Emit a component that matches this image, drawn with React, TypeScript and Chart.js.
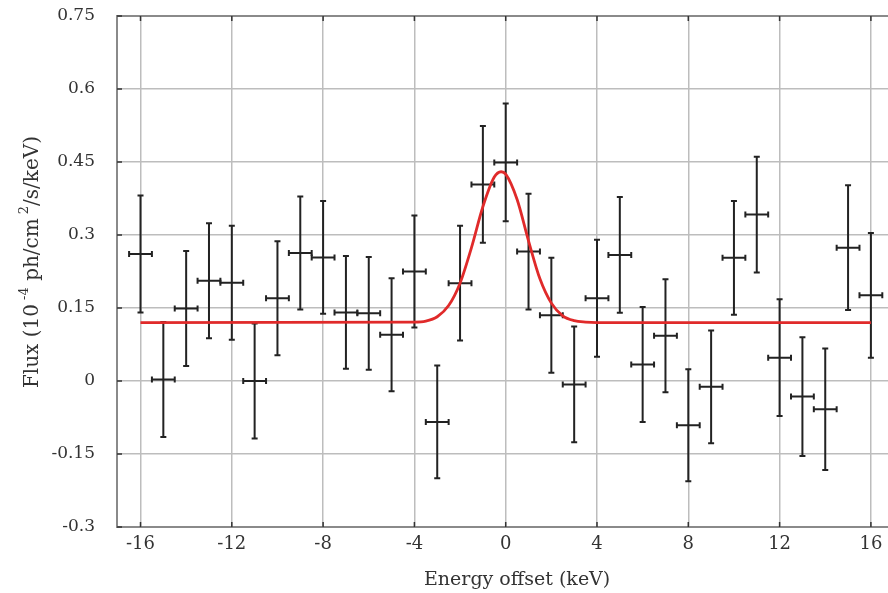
import React, { useEffect, useRef } from "react";
import { Chart, registerables } from "chart.js";

Chart.register(...registerables);

// Data points (energy bins, 1 keV wide)
const energy = [-16, -15, -14, -13, -12, -11, -10, -9, -8, -7, -6, -5, -4, -3, -2, -1, 0, 1, 2, 3, 4, 5, 6, 7, 8, 9, 10, 11, 12, 13, 14, 15, 16];
const flux = [0.261, 0.003, 0.149, 0.206, 0.202, 0.0, 0.17, 0.263, 0.254, 0.141, 0.139, 0.095, 0.225, -0.084, 0.201, 0.404, 0.449, 0.266, 0.135, -0.007, 0.17, 0.259, 0.034, 0.093, -0.091, -0.012, 0.253, 0.342, 0.048, -0.032, -0.058, 0.274, 0.176];
const fluxErr = [0.12, 0.118, 0.118, 0.118, 0.117, 0.118, 0.117, 0.116, 0.116, 0.116, 0.116, 0.116, 0.115, 0.116, 0.118, 0.12, 0.121, 0.119, 0.118, 0.119, 0.12, 0.119, 0.118, 0.116, 0.115, 0.116, 0.117, 0.119, 0.12, 0.122, 0.125, 0.128, 0.128];
const binHalfWidth = 0.5;

// Model curve
const modelX = [-16, -4, -3.5, -3, -2.5, -2, -1.5, -1, -0.5, -0.2, 0, 0.5, 1, 1.5, 2, 2.5, 3, 3.5, 4, 16];
const modelY = [0.12, 0.121, 0.123, 0.132, 0.155, 0.201, 0.274, 0.358, 0.419, 0.43, 0.425, 0.373, 0.288, 0.21, 0.16, 0.134, 0.124, 0.121, 0.12, 0.12];

// Ticks
const xTicks = [-16, -12, -8, -4, 0, 4, 8, 12, 16];
const yTicks = [-0.3, -0.15, 0, 0.15, 0.3, 0.45, 0.6, 0.75];
const yTickLabels = ["-0.3", "-0.15", "0", "0.15", "0.3", "0.45", "0.6", "0.75"];

const xTitle = "Energy offset (keV)";

const SERIF = "'DejaVu Serif', 'Liberation Serif', serif";

const decorPlugin = {
  id: "decor",
  beforeDatasetsDraw(chart: any) {
    const ctx = chart.ctx;
    const xs = chart.scales.x;
    const ys = chart.scales.y;
    ctx.save();
    ctx.strokeStyle = "#222";
    ctx.lineWidth = 2;
    const cap = 3;
    for (let i = 0; i < energy.length; i++) {
      const cx = xs.getPixelForValue(energy[i]);
      const cy = ys.getPixelForValue(flux[i]);
      const xl = xs.getPixelForValue(energy[i] - binHalfWidth);
      const xr = xs.getPixelForValue(energy[i] + binHalfWidth);
      const yt = ys.getPixelForValue(flux[i] + fluxErr[i]);
      const yb = ys.getPixelForValue(flux[i] - fluxErr[i]);
      ctx.beginPath();
      ctx.moveTo(cx, yt);
      ctx.lineTo(cx, yb);
      ctx.moveTo(cx - cap, yt);
      ctx.lineTo(cx + cap, yt);
      ctx.moveTo(cx - cap, yb);
      ctx.lineTo(cx + cap, yb);
      ctx.moveTo(xl, cy);
      ctx.lineTo(xr, cy);
      ctx.moveTo(xl, cy - cap);
      ctx.lineTo(xl, cy + cap);
      ctx.moveTo(xr, cy - cap);
      ctx.lineTo(xr, cy + cap);
      ctx.stroke();
    }
    ctx.restore();
  },
  afterDraw(chart: any) {
    const ctx = chart.ctx;
    const a = chart.chartArea;
    const xs = chart.scales.x;
    const ys = chart.scales.y;
    ctx.save();
    // frame (right edge lies beyond the visible picture)
    ctx.strokeStyle = "#8a8a8a";
    ctx.lineWidth = 2;
    ctx.beginPath();
    ctx.moveTo(a.right + 2, a.top);
    ctx.lineTo(a.left, a.top);
    ctx.lineTo(a.left, a.bottom);
    ctx.lineTo(a.right + 2, a.bottom);
    ctx.stroke();
    // inward ticks
    ctx.strokeStyle = "#333";
    ctx.lineWidth = 1.5;
    ctx.beginPath();
    xTicks.forEach((v) => {
      const px = xs.getPixelForValue(v);
      ctx.moveTo(px, a.bottom);
      ctx.lineTo(px, a.bottom - 5);
      ctx.moveTo(px, a.top);
      ctx.lineTo(px, a.top + 5);
    });
    yTicks.forEach((v) => {
      const py = ys.getPixelForValue(v);
      ctx.moveTo(a.left, py);
      ctx.lineTo(a.left + 5, py);
    });
    ctx.stroke();

    // x title
    ctx.fillStyle = "#333";
    ctx.font = `19px ${SERIF}`;
    ctx.textAlign = "center";
    ctx.textBaseline = "alphabetic";
    ctx.fillText(xTitle, xs.getPixelForValue(0.5), 585);

    // y title with superscripts
    const main = 20;
    const sup = 13;
    const parts: [string, boolean][] = [
      ["Flux (10", false],
      [" -4", true],
      [" ph/cm", false],
      [" 2", true],
      ["/s/keV)", false],
    ];
    let total = 0;
    const widths = parts.map(([t, s]) => {
      ctx.font = `${s ? sup : main}px ${SERIF}`;
      const w = ctx.measureText(t).width;
      total += w;
      return w;
    });
    const centerY = 262;
    ctx.translate(38, centerY + total / 2);
    ctx.rotate(-Math.PI / 2);
    ctx.textAlign = "left";
    let off = 0;
    parts.forEach(([t, s], i) => {
      ctx.font = `${s ? sup : main}px ${SERIF}`;
      ctx.fillText(t, off, s ? -10 : 0);
      off += widths[i];
    });
    ctx.restore();
  },
};

const clearPad = (s: any) => {
  s.paddingTop = 0;
  s.paddingBottom = 0;
  s.paddingLeft = 0;
  s.paddingRight = 0;
};

export default function App() {
  const ref = useRef<HTMLCanvasElement | null>(null);
  useEffect(() => {
    document.body.style.margin = "0";
    document.body.style.overflow = "hidden";
    const canvas = ref.current!;
    const chart = new Chart(canvas, {
      type: "scatter",
      data: {
        datasets: [
          {
            label: "model",
            data: modelX.map((x, i) => ({ x, y: modelY[i] })),
            showLine: true,
            borderColor: "#e02a2a",
            borderWidth: 2.8,
            pointRadius: 0,
            cubicInterpolationMode: "monotone",
          } as any,
          {
            label: "data",
            data: energy.map((x, i) => ({ x, y: flux[i] })),
            pointRadius: 0,
            showLine: false,
          },
        ],
      },
      options: {
        animation: false,
        responsive: false,
        devicePixelRatio: 1,
        layout: { padding: { top: 16, right: 1, left: 0, bottom: 0 } },
        plugins: { legend: { display: false }, tooltip: { enabled: false } },
        scales: {
          x: {
            type: "linear",
            min: -17.03,
            max: 17.1,
            afterBuildTicks: (s: any) => {
              s.ticks = xTicks.map((v) => ({ value: v }));
            },
            afterFit: (s: any) => {
              s.height = 66;
              clearPad(s);
            },
            grid: { color: "#bdbdbd", lineWidth: 1.5, drawTicks: false },
            border: { display: false },
            ticks: {
              font: { family: SERIF, size: 18 },
              color: "#333",
              padding: 7,
              autoSkip: false,
              maxRotation: 0,
              callback: (v: any) => String(v),
            },
          },
          y: {
            type: "linear",
            min: -0.3,
            max: 0.75,
            afterBuildTicks: (s: any) => {
              s.ticks = yTicks.map((v) => ({ value: v }));
            },
            afterFit: (s: any) => {
              s.width = 117;
              clearPad(s);
            },
            grid: { color: "#bdbdbd", lineWidth: 1.5, drawTicks: false },
            border: { display: false },
            ticks: {
              font: { family: SERIF, size: 17 },
              color: "#333",
              padding: 22,
              autoSkip: false,
              callback: (v: any) => {
                const idx = yTicks.findIndex((t) => Math.abs(t - v) < 1e-9);
                return idx >= 0 ? yTickLabels[idx] : "";
              },
            },
          },
        },
      },
      plugins: [decorPlugin],
    });
    return () => chart.destroy();
  }, []);
  return (
    <div style={{ position: "relative", width: 888, height: 593, overflow: "hidden" }}>
      <div style={{ width: 897, height: 593 }}>
        <canvas ref={ref} width={897} height={593} style={{ display: "block" }} />
      </div>
    </div>
  );
}
